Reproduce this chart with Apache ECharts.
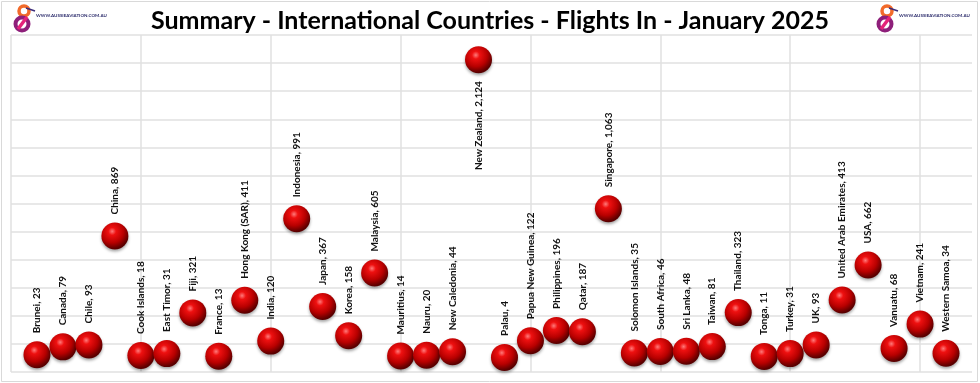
<!DOCTYPE html>
<html><head><meta charset="utf-8">
<script src="https://cdn.jsdelivr.net/npm/echarts@6/dist/echarts.min.js"></script>
<style>html,body{margin:0;padding:0;background:#fff}#c{width:980px;height:383px}</style>
</head><body><div id="c"></div>
<script>
const countries = ["Brunei","Canada","Chile","China","Cook Islands","East Timor","Fiji","France","Hong Kong (SAR)","India","Indonesia","Japan","Korea","Malaysia","Mauritius","Nauru","New Caledonia","New Zealand","Palau","Papua New Guinea","Philippines","Qatar","Singapore","Solomon Islands","South Africa","Sri Lanka","Taiwan","Thailand","Tonga","Turkey","UK","United Arab Emirates","USA","Vanuatu","Vietnam","Western Samoa"];
const flights = [23,79,93,869,18,31,321,13,411,120,991,367,158,605,14,20,44,2124,4,122,196,187,1063,35,46,48,81,323,11,31,93,413,662,68,241,34];
const titleText = "Summary - International Countries - Flights In - January 2025";
const logoText = "WWW.AUSSIEAVIATION.COM.AU";

const chart = echarts.init(document.getElementById('c'), null, {renderer:'canvas'});
const sphere = {
  type:'radial', x:0.4, y:0.33, r:0.65,
  colorStops:[{offset:0,color:'#ff7a7a'},{offset:0.22,color:'#ee1010'},{offset:0.65,color:'#b80000'},{offset:1,color:'#5a0000'}]
};
const data = flights.map((v,i)=>{
  const d = {value:[i+1,v], name:countries[i]};
  if (v > 2000) d.label = {position:'bottom', align:'right'};
  return d;
});
function logo(x){
  return [
    {type:'rect', shape:{x:x, y:2, width:80, height:32}, style:{fill:'#fff'}, z:10},
    {type:'circle', shape:{cx:x+11, cy:11, r:5}, style:{fill:null, stroke:'#f26a2a', lineWidth:3.5}, z:11},
    {type:'circle', shape:{cx:x+9, cy:24, r:6.5}, style:{fill:null, stroke:'#8e1f7a', lineWidth:4}, z:11},
    {type:'line', shape:{x1:x+14, y1:17, x2:x+5, y2:29}, style:{stroke:'#e4237a', lineWidth:3.5}, z:12},
    {type:'line', shape:{x1:x+13, y1:8, x2:x+22, y2:11}, style:{stroke:'#3b2b7a', lineWidth:1.5}, z:12},
    {type:'text', style:{x:x+23, y:13, text:logoText, font:'bold 4.5px Lato', fill:'#2a2a6a'}, z:11}
  ];
}
chart.setOption({
  animation:false,
  title:{text:titleText, left:'center', top:3, textStyle:{fontFamily:'Lato', fontWeight:'bold', fontSize:25, color:'#000'}},
  graphic:[
    {type:'rect', shape:{x:1.5, y:1.5, width:976, height:380}, style:{fill:null, stroke:'#d9d9d9', lineWidth:1}, z:0},
    ...logo(13), ...logo(876)
  ],
  grid:{left:11, right:8, top:35, bottom:11},
  xAxis:{type:'value', min:0, max:37, interval:5, axisLine:{show:false}, axisTick:{show:false}, axisLabel:{show:false},
    splitLine:{show:true, lineStyle:{color:['#e0e0e0','#e0e0e0','#e0e0e0','#e0e0e0','#e0e0e0','#e0e0e0','#e0e0e0','#e0e0e0','rgba(0,0,0,0)'], width:1.5}}},
  yAxis:[
    {type:'value', min:-100, max:2300, show:false, splitLine:{show:false}},
    {type:'value', min:0, max:2400, interval:200, position:'left', axisLine:{show:false}, axisTick:{show:false}, axisLabel:{show:false},
      splitLine:{show:true, lineStyle:{color:'#e0e0e0', width:1.5}}}
  ],
  series:[
    {type:'scatter', yAxisIndex:1, data:[], silent:true},
    {type:'scatter', yAxisIndex:0, data:data, symbol:'circle', symbolSize:27,
      itemStyle:{color:sphere, shadowBlur:3, shadowColor:'rgba(0,0,0,0.35)', shadowOffsetY:2, opacity:1},
      label:{show:true, position:'top', distance:8, rotate:90, align:'left', verticalAlign:'middle',
        fontFamily:'Lato', fontWeight:'bold', fontSize:10, color:'#111',
        formatter:p=>p.name+', '+p.value[1].toLocaleString('en-US')}
    }
  ]
});
</script></body></html>
